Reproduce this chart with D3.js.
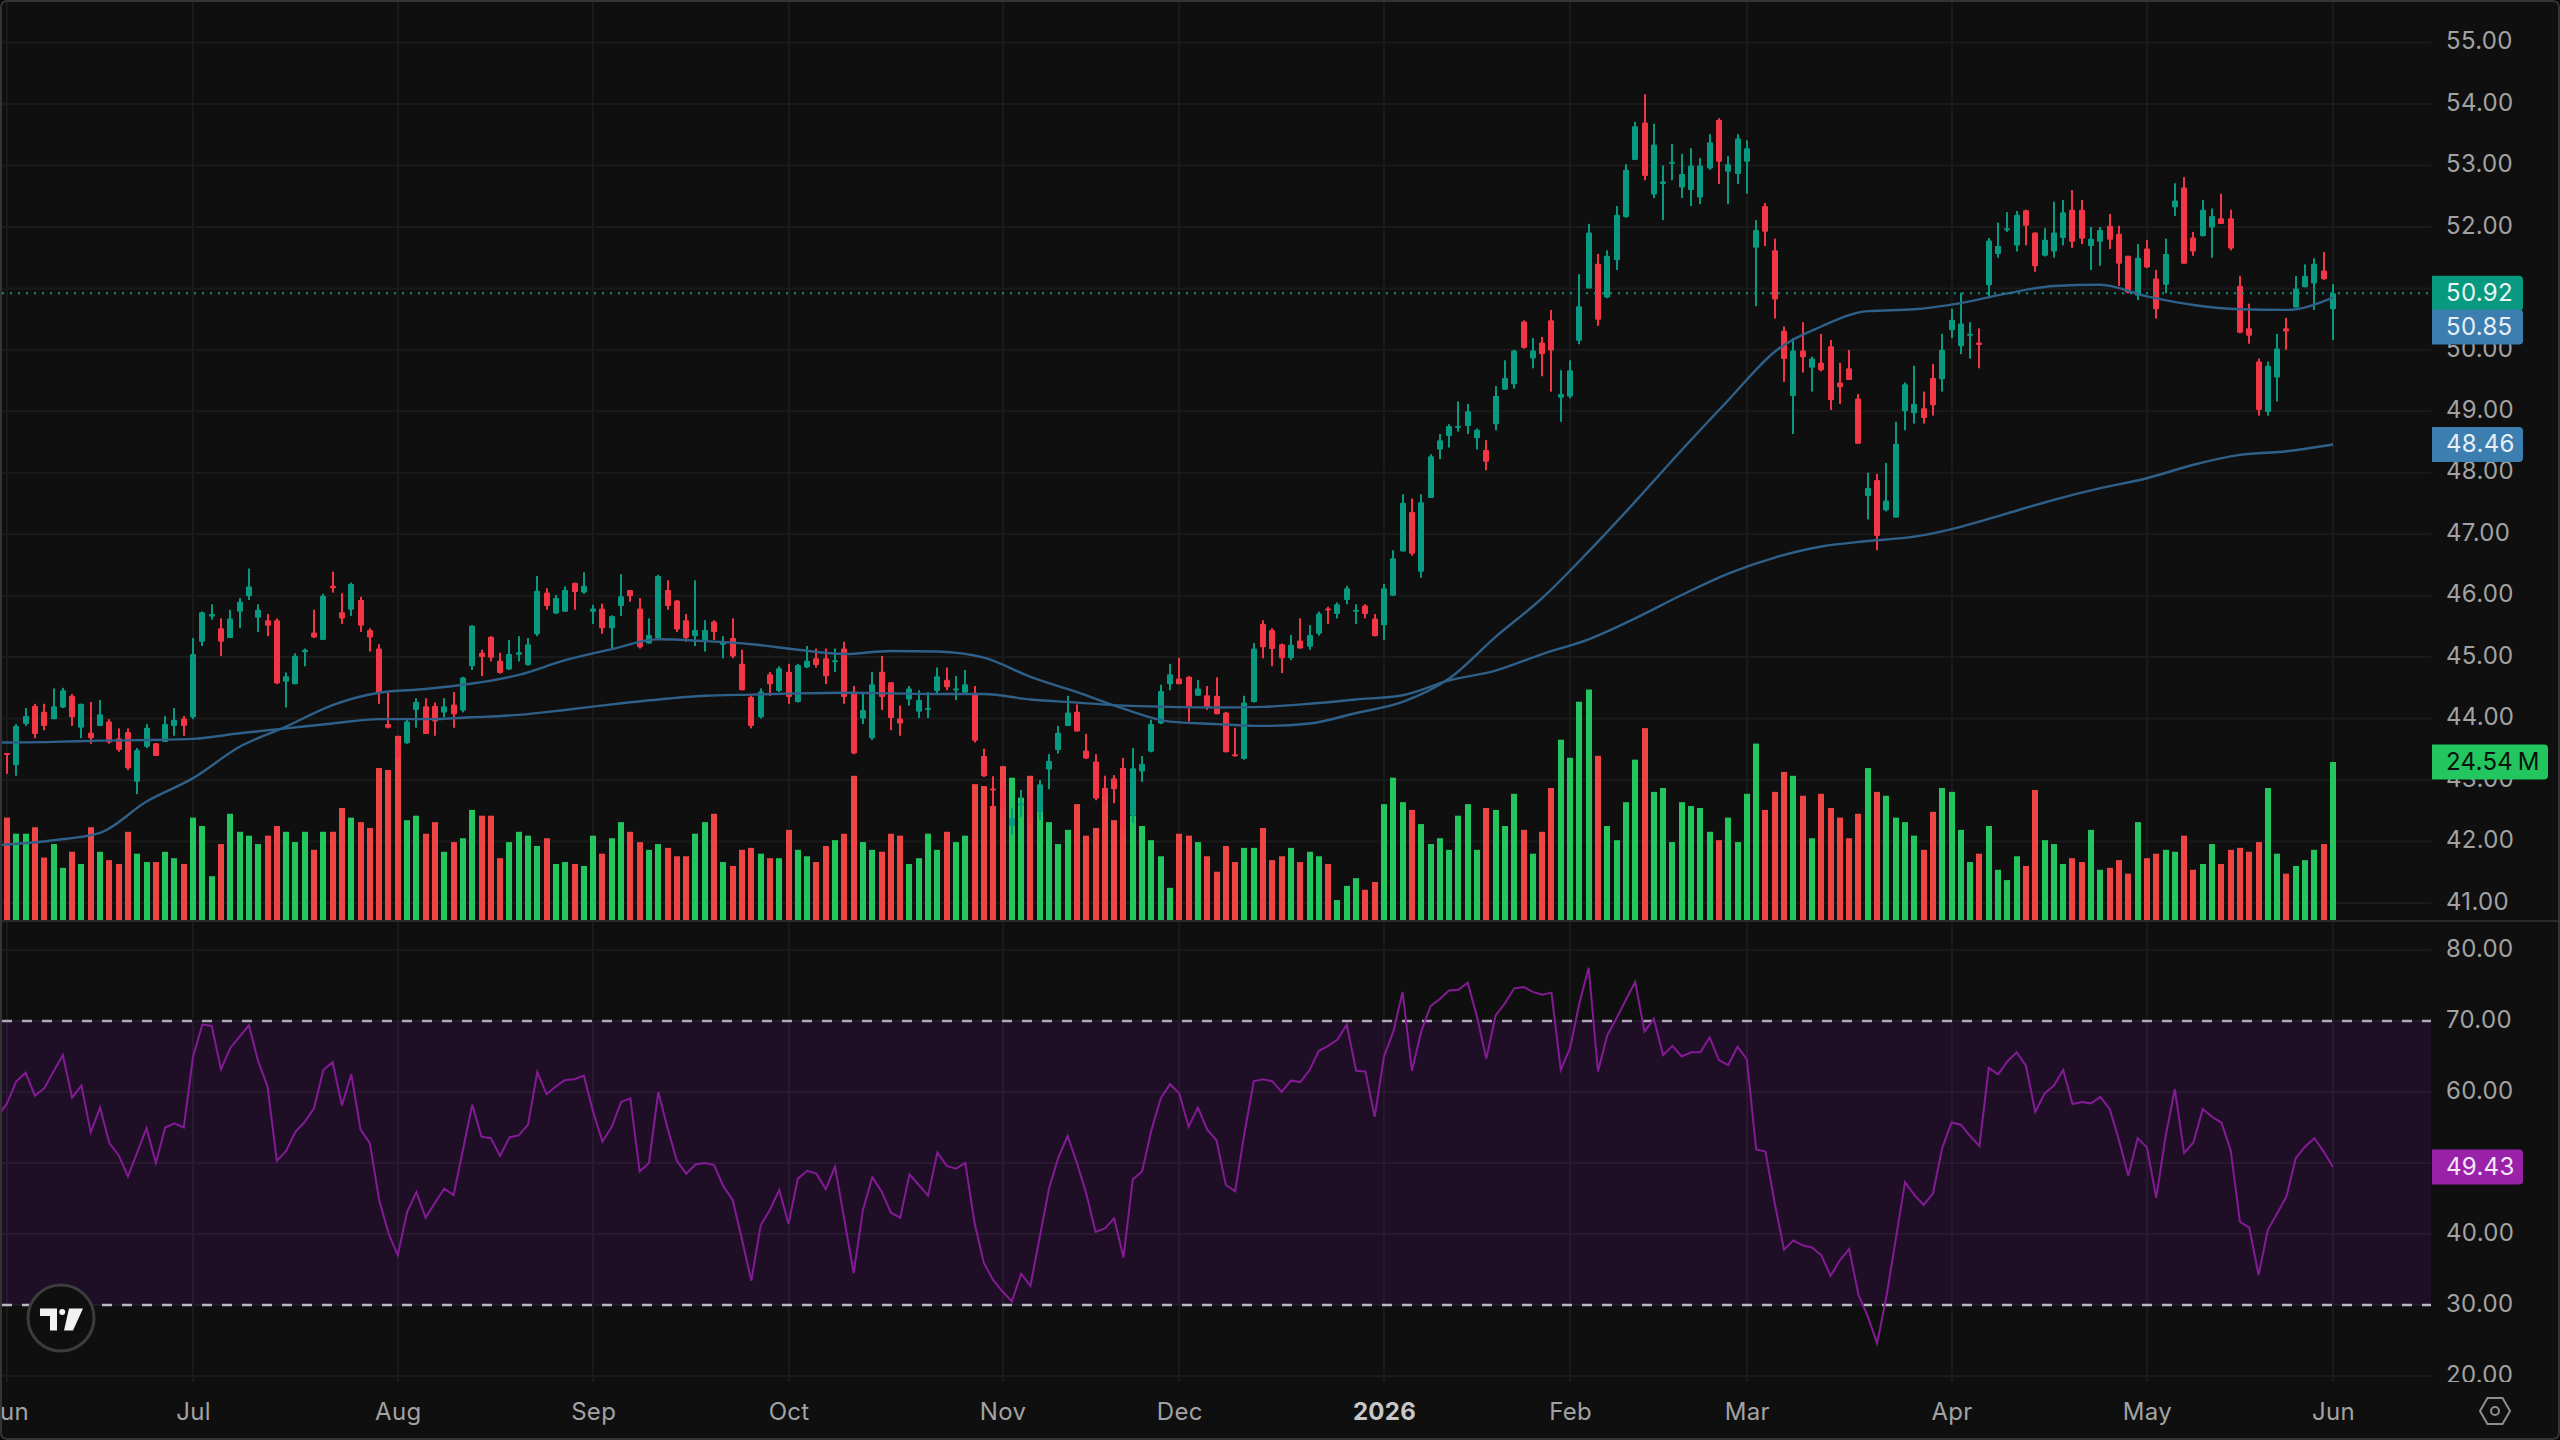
<!DOCTYPE html>
<html>
<head>
<meta charset="utf-8">
<title>Price, volume and RSI</title>
<script src="https://cdn.jsdelivr.net/npm/d3@7/dist/d3.min.js"></script>
<style>
  html, body { margin: 0; padding: 0; background: #0b0b0b; }
  svg { display: block; font-family: Inter, "Noto Sans", sans-serif; }
</style>
</head>
<body>
<div id="chart"></div>
<script>
// Daily sessions, June 2025 to June 2026
const open = [
  43.44,43.24,43.91,44.21,44.11,43.99,44.18,44.37,43.85,43.77,
  43.88,43.95,43.68,43.78,42.97,43.54,43.60,43.62,43.88,44.00,
  44.02,45.25,45.66,45.47,45.31,45.74,45.99,45.64,45.60,45.60,
  44.60,44.56,45.08,45.40,45.28,46.16,45.73,45.77,45.93,45.44,
  45.14,43.91,43.59,43.60,44.14,44.20,44.21,44.10,44.23,44.13,
  44.85,45.07,45.33,44.94,44.80,45.04,44.87,45.37,46.05,45.71,
  45.74,46.21,46.05,45.74,45.79,45.47,45.83,46.09,45.79,45.22,
  45.31,46.09,45.92,45.60,45.34,45.28,45.58,45.20,45.31,44.89,
  44.35,44.02,44.72,44.45,44.76,44.27,44.83,44.98,44.98,44.93,
  45.14,44.44,44.00,43.68,44.76,44.59,44.00,44.31,44.11,44.14,
  44.45,44.63,44.47,44.42,44.42,43.39,42.86,42.85,42.25,42.58,
  42.74,42.48,43.17,43.49,43.88,44.11,43.48,43.30,42.86,43.03,
  43.19,42.42,43.14,43.46,43.92,44.56,44.65,44.68,44.37,44.38,
  44.37,44.10,43.42,43.34,44.27,45.54,45.44,45.21,44.98,45.27,
  45.17,45.38,45.79,45.70,45.93,45.74,45.84,45.63,45.52,46.00,
  46.72,47.36,46.39,47.59,48.38,48.60,48.73,48.76,48.56,48.37,
  48.79,49.35,49.44,50.46,49.86,50.12,50.48,49.22,49.24,50.15,
  51.00,51.40,50.85,51.46,52.16,53.09,53.70,52.53,52.70,53.03,
  52.64,52.60,52.48,52.95,53.74,52.90,52.86,53.06,51.66,52.34,
  51.62,50.31,49.25,49.99,49.71,49.79,50.06,49.47,49.70,49.21,
  47.62,47.88,47.39,47.27,49.00,48.97,49.05,49.54,49.52,50.32,
  50.06,50.23,50.12,51.05,51.56,51.95,51.70,52.27,51.91,51.53,
  51.60,51.82,52.28,52.28,51.69,51.76,52.02,51.89,51.53,50.88,
  51.65,51.16,51.06,52.32,52.64,51.83,51.85,51.99,52.14,52.14,
  51.04,50.35,49.81,48.99,49.55,50.35,50.69,51.02,51.08,51.29,50.66
];
const high = [
  43.44,43.91,44.17,44.24,44.24,44.49,44.50,44.40,44.24,44.27,
  44.30,43.99,43.84,43.84,43.52,43.91,43.60,44.04,44.17,44.04,
  45.31,45.74,45.86,45.63,45.77,45.96,46.44,45.86,45.70,45.63,
  44.75,45.06,45.14,45.77,46.03,46.39,46.04,46.21,45.98,45.47,
  45.21,44.42,43.72,43.99,44.33,44.33,44.26,44.33,44.43,44.68,
  45.52,45.12,45.34,45.07,45.28,45.34,45.31,46.32,46.12,46.01,
  46.15,46.21,46.38,45.85,45.87,45.68,46.35,46.09,45.96,45.63,
  46.34,46.25,45.93,45.70,46.25,45.60,45.60,45.34,45.63,45.12,
  44.38,44.49,44.76,44.85,44.89,44.89,45.18,45.14,45.14,45.14,
  45.25,44.53,44.41,44.76,45.02,44.59,44.21,44.53,44.46,44.43,
  44.83,44.83,44.69,44.79,44.53,43.51,43.06,42.95,42.55,42.84,
  42.95,43.00,43.42,43.88,44.37,44.23,43.75,43.42,43.07,43.08,
  43.36,43.52,43.39,43.98,44.55,44.89,44.99,44.69,44.63,44.53,
  44.67,44.11,43.85,44.37,45.23,45.60,45.47,45.22,45.36,45.63,
  45.52,45.74,45.82,45.89,46.16,45.86,45.86,45.70,46.19,46.74,
  47.65,47.58,47.65,48.30,48.63,48.79,49.16,49.12,48.72,48.53,
  49.41,49.83,50.00,50.48,50.19,50.21,50.65,49.67,49.83,51.23,
  52.05,51.56,51.62,52.34,53.02,53.71,54.16,53.68,53.00,53.35,
  53.19,53.28,53.12,53.51,53.77,53.15,53.51,53.41,52.11,52.39,
  51.81,50.38,50.19,50.45,49.89,50.26,50.16,49.79,50.00,49.28,
  48.00,47.98,48.16,48.83,49.47,49.74,49.32,49.77,50.26,50.67,
  50.93,50.45,50.35,51.82,52.07,52.24,52.26,52.28,51.91,51.98,
  52.41,52.44,52.60,52.44,52.00,52.00,52.21,52.02,51.53,51.72,
  51.79,51.30,51.81,52.71,52.81,51.92,52.44,52.30,52.54,52.28,
  51.20,50.75,49.86,49.81,50.26,50.52,51.20,51.39,51.49,51.59,51.07
];
const low = [
  43.10,43.07,43.88,43.68,43.81,43.99,44.17,43.88,43.68,43.59,
  43.88,43.59,43.46,43.16,42.77,43.52,43.39,43.62,43.72,43.72,
  43.99,45.18,45.61,45.02,45.31,45.47,45.93,45.41,45.34,44.56,
  44.18,44.56,44.85,45.31,45.28,46.05,45.54,45.67,45.41,45.09,
  44.24,43.84,43.35,43.59,43.85,43.75,43.72,44.02,43.85,44.10,
  44.79,44.69,44.93,44.73,44.79,44.93,44.86,45.34,45.77,45.70,
  45.74,45.77,46.03,45.54,45.38,45.13,45.67,45.90,45.14,45.22,
  45.31,45.77,45.41,45.25,45.18,45.09,45.28,44.98,44.98,44.46,
  43.84,44.00,44.37,44.43,44.24,44.26,44.82,44.83,44.56,44.76,
  44.24,43.42,43.91,43.65,44.14,43.81,43.72,44.21,44.01,44.01,
  44.40,44.46,44.30,44.40,43.61,43.05,42.54,42.45,42.11,42.40,
  42.30,42.35,42.85,43.43,43.88,43.79,43.34,42.67,42.60,42.62,
  42.10,42.30,42.97,43.45,43.91,44.46,44.56,43.95,44.37,44.14,
  44.07,43.45,43.38,43.33,44.26,44.98,44.85,44.74,44.95,45.14,
  45.12,45.35,45.54,45.63,45.86,45.54,45.63,45.34,45.28,46.00,
  46.72,46.65,46.29,47.59,48.22,48.41,48.67,48.63,48.38,48.04,
  48.69,49.35,49.37,50.02,49.70,49.57,49.32,48.83,49.21,50.09,
  51.00,50.39,50.84,51.30,52.15,53.09,52.76,52.47,52.11,52.76,
  52.47,52.34,52.37,52.93,52.70,52.37,52.70,52.54,50.71,51.69,
  50.51,49.48,48.63,49.63,49.32,49.65,49.02,49.12,49.51,48.47,
  47.24,46.74,47.37,47.27,48.69,48.80,48.80,48.93,49.32,50.19,
  49.93,49.86,49.70,50.84,51.50,51.92,51.60,51.70,51.27,51.52,
  51.50,51.70,51.66,51.72,51.30,51.37,51.64,51.04,50.92,50.81,
  51.33,50.51,50.92,52.18,51.40,51.53,51.85,51.50,52.05,51.62,
  50.27,50.10,48.93,48.93,49.16,50.00,50.69,51.02,50.65,51.14,50.16
];
const close = [
  43.42,43.88,44.04,43.75,43.88,44.20,44.46,44.02,44.24,43.68,
  44.07,43.61,43.49,43.19,43.49,43.85,43.39,43.91,43.98,43.88,
  45.05,45.73,45.70,45.25,45.63,45.90,46.15,45.77,45.51,44.57,
  44.69,45.02,45.12,45.32,46.00,46.12,45.63,46.19,45.51,45.32,
  44.41,43.85,43.37,43.95,44.27,43.75,43.95,44.20,44.07,44.67,
  45.51,45.00,44.99,44.74,45.05,45.08,45.21,46.08,45.83,45.96,
  46.09,46.06,46.16,45.79,45.47,45.67,45.99,45.99,45.16,45.36,
  46.32,45.83,45.45,45.31,45.44,45.44,45.41,45.25,45.01,44.46,
  43.88,44.44,44.56,44.82,44.35,44.87,44.94,44.87,44.69,44.95,
  44.35,43.43,44.14,44.56,44.35,44.01,43.92,44.49,44.30,44.17,
  44.69,44.51,44.49,44.56,43.64,43.06,42.83,42.55,42.38,42.62,
  42.40,42.93,43.31,43.77,44.10,43.79,43.35,42.70,42.74,42.85,
  42.25,43.19,43.26,43.91,44.45,44.72,44.56,44.18,44.49,44.18,
  44.07,43.45,43.39,44.26,45.14,45.16,45.13,44.98,45.20,45.14,
  45.36,45.71,45.77,45.86,46.12,45.77,45.70,45.34,46.12,46.61,
  47.51,46.68,47.52,48.27,48.53,48.76,48.76,49.00,48.70,48.18,
  49.25,49.54,49.99,50.03,49.99,49.93,49.99,49.28,49.67,50.71,
  51.91,50.49,51.53,52.20,52.93,53.64,52.83,53.34,52.74,53.06,
  52.86,53.00,53.00,53.38,53.06,53.02,53.44,53.28,51.95,51.92,
  50.82,49.85,49.99,49.88,49.86,49.67,49.18,49.39,49.51,48.47,
  47.75,46.97,47.55,48.47,49.44,49.12,48.89,49.10,50.00,50.49,
  50.43,50.26,50.08,51.78,51.69,51.98,52.20,52.02,51.36,51.79,
  51.91,52.24,51.76,51.81,51.81,51.95,51.79,51.40,50.93,51.50,
  51.34,50.66,51.56,52.43,51.40,51.60,52.28,52.18,52.05,51.65,
  50.28,50.23,49.02,49.74,50.02,50.30,51.00,51.20,51.40,51.15,50.92
];
// Session volume in millions of shares
const volume = [
  15.9,13.4,13.4,14.4,9.7,11.8,8.1,10.6,8.7,14.4,
  10.6,9.3,8.7,13.7,10.3,9.0,9.0,10.6,9.6,8.7,
  15.9,14.6,6.8,11.8,16.5,13.7,13.1,11.8,13.1,14.6,
  13.7,12.1,13.7,10.9,13.7,13.7,17.4,15.9,15.2,14.3,
  23.6,23.3,28.6,15.5,16.2,13.4,15.2,10.6,12.1,12.7,
  17.1,16.2,16.2,9.6,12.1,13.7,13.1,11.5,12.7,8.7,
  9.0,8.7,8.4,13.1,10.3,12.7,15.2,13.7,12.1,10.9,
  11.8,11.2,9.9,9.9,13.4,15.2,16.5,9.0,8.4,10.9,
  11.2,10.3,9.6,9.6,14.0,10.9,9.9,9.0,11.5,12.4,
  13.4,22.4,12.1,10.9,10.6,13.4,13.1,8.7,9.6,13.4,
  10.9,13.7,12.1,13.1,21.1,20.8,17.7,23.9,22.1,19.0,
  22.4,18.0,15.2,11.8,14.0,18.0,13.1,14.3,20.5,15.5,
  23.6,16.2,14.6,12.4,9.9,5.0,13.4,13.1,12.1,9.9,
  7.5,11.5,9.0,11.2,11.2,14.3,9.3,9.9,11.2,9.0,
  10.6,9.9,8.7,3.1,5.3,6.5,4.7,5.9,18.0,22.1,
  18.3,17.1,14.9,11.8,12.7,10.9,16.2,18.0,10.9,17.4,
  17.1,14.6,19.6,14.0,10.3,13.7,20.5,28.0,25.2,33.9,
  35.8,25.5,14.6,12.4,18.3,24.9,29.8,19.9,20.5,12.1,
  18.3,17.7,17.4,13.7,12.4,15.9,12.1,19.6,27.4,17.1,
  19.9,23.0,22.4,19.3,12.7,19.6,17.4,15.9,12.7,16.5,
  23.6,19.9,19.3,15.9,15.2,13.1,10.9,16.8,20.5,19.9,
  14.0,9.0,10.3,14.6,7.8,6.2,9.9,8.4,20.2,12.4,
  11.8,8.7,9.6,9.0,14.0,7.8,8.1,9.3,7.2,15.2,
  9.6,10.3,10.9,10.6,13.1,7.8,8.7,11.8,8.7,10.9,
  11.2,10.6,12.1,20.5,10.3,7.2,8.4,9.3,10.9,11.8,24.54
];
// Relative strength index per session
const rsi = [
  58.4,61.5,62.7,59.5,60.5,62.9,65.2,59.2,60.9,54.3,
  57.8,52.8,51.1,48.1,51.5,54.9,50.0,55.0,55.6,55.0,
  65.0,69.5,69.3,63.2,66.2,67.8,69.4,64.3,60.8,50.3,
  51.7,54.4,55.8,57.7,63.1,64.2,58.1,62.5,54.7,52.8,
  44.8,40.1,37.0,43.1,45.9,42.3,44.4,46.4,45.5,51.8,
  58.2,53.7,53.5,51.0,53.6,53.9,55.4,62.8,59.7,60.8,
  61.7,61.8,62.3,57.2,53.0,55.1,58.6,59.1,48.8,50.0,
  60.0,54.9,50.3,48.5,49.8,50.0,49.7,46.7,44.8,39.2,
  33.4,41.2,43.4,46.2,41.4,47.8,48.9,48.5,46.3,49.5,
  42.0,34.5,43.4,48.0,46.0,43.0,42.3,48.4,46.9,45.4,
  51.5,49.6,49.2,50.0,41.5,35.9,33.5,31.9,30.5,34.4,
  32.7,39.6,46.4,50.8,53.8,50.0,45.7,40.3,40.8,42.2,
  36.7,47.7,48.8,54.6,59.1,61.1,59.8,55.1,57.8,54.7,
  53.2,46.9,46.0,54.2,61.5,61.8,61.5,60.0,61.6,61.4,
  63.1,65.8,66.5,67.4,69.5,63.0,62.9,56.5,65.0,68.5,
  74.1,63.0,68.5,72.1,73.1,74.3,74.4,75.4,70.6,64.7,
  70.8,72.5,74.6,74.8,74.1,73.7,74.0,63.1,66.2,72.5,
  77.5,62.9,68.0,70.4,73.0,75.5,68.5,70.3,65.2,66.5,
  65.0,65.6,65.6,67.7,64.5,63.8,66.4,64.6,51.9,51.6,
  44.3,37.8,39.1,38.4,38.1,37.0,34.1,36.3,37.9,31.4,
  28.4,24.6,31.2,39.2,47.3,45.5,44.1,45.7,52.1,55.7,
  55.4,53.8,52.4,63.4,62.5,64.3,65.6,63.7,57.2,59.8,
  60.9,63.1,58.3,58.6,58.4,59.3,57.6,53.2,48.2,53.5,
  52.2,45.1,53.7,60.4,51.4,52.9,57.6,56.5,55.7,51.8,
  41.7,40.9,34.2,40.6,42.9,45.3,50.7,52.3,53.5,51.6,49.43
];
const rsiBeforeWindow = 56.5;

// Moving averages, read every fifth session
const maIndex = [
  -1,0,5,10,15,20,25,30,35,40,45,50,55,60,65,70,75,80,85,90,95,100,105,110,115,120,
  125,130,135,140,145,150,155,160,165,170,175,180,185,190,195,200,205,210,215,220,225,230,235,240,245,250
];
const fastMa = [
  41.94,41.95,42.02,42.14,42.65,43.03,43.54,43.87,44.22,44.42,44.48,44.57,44.71,44.95,45.13,45.29,45.26,45.21,45.12,45.05,45.10,45.09,44.99,44.68,44.43,44.16,
  43.95,43.91,43.88,43.92,44.09,44.27,44.65,45.33,45.96,46.72,47.53,48.37,49.18,49.97,50.38,50.63,50.66,50.76,50.92,51.04,51.06,50.87,50.73,50.66,50.65,50.85
];
const slowMa = [
  43.61,43.61,43.62,43.64,43.65,43.67,43.76,43.84,43.92,43.99,43.99,44.02,44.06,44.14,44.23,44.31,44.37,44.39,44.41,44.42,44.41,44.40,44.40,44.31,44.26,44.21,
  44.19,44.18,44.19,44.24,44.31,44.38,44.62,44.78,45.05,45.29,45.63,46.01,46.36,46.62,46.80,46.89,46.96,47.12,47.34,47.56,47.75,47.91,48.13,48.29,48.35,48.46
];

// Time axis: session index of each month start and its label
const monthIndex = [0,20,42,63,84,107,126,148,168,187,209,230,250];
const monthLabels = ["Jun","Jul","Aug","Sep","Oct","Nov","Dec","2026","Feb","Mar","Apr","May","Jun"];
const priceTicks = [41,42,43,44,45,46,47,48,49,50,51,52,53,54,55];
const rsiTicks = [20,30,40,50,60,70,80];

const W = 2560, H = 1440;
const plotRight = 2431, paneSplit = 921, rsiBottom = 1382;

const x = d3.scaleLinear().domain([0, 250]).range([7, 2333]);
const yPrice = d3.scaleLinear().domain([41, 55]).range([902.9, 42.6]);
const yVol = d3.scaleLinear().domain([0, 24.54]).range([920, 762]);
const yRsi = d3.scaleLinear().domain([20, 80]).range([1376, 950]);

const colors = {
  bg: "#0f0f0f", grid: "#1a1a1a", frame: "#343434",
  up: "#089981", down: "#f23645",
  volUp: "#22c55e", volDown: "#ef4444",
  ma: "#2f6089", tag: "#3d7eb0", rsi: "#861a96", rsiTag: "#9a22a9",
  text: "#a2a2a2"
};

const svg = d3.select("#chart").append("svg").attr("width", W).attr("height", H);
svg.append("rect").attr("x", 0).attr("y", 0).attr("width", W).attr("height", H)
  .attr("rx", 6).attr("fill", colors.bg);

const defs = svg.append("defs");
defs.append("clipPath").attr("id", "plot-clip").append("rect")
  .attr("x", 2).attr("y", 0).attr("width", plotRight - 2).attr("height", paneSplit);
defs.append("clipPath").attr("id", "rsi-clip").append("rect")
  .attr("x", 2).attr("y", paneSplit).attr("width", plotRight - 2).attr("height", rsiBottom - paneSplit);
defs.append("clipPath").attr("id", "rsi-axis-clip").append("rect")
  .attr("x", plotRight).attr("y", paneSplit).attr("width", W - plotRight).attr("height", rsiBottom - paneSplit);
defs.append("clipPath").attr("id", "time-clip").append("rect")
  .attr("x", 2).attr("y", rsiBottom).attr("width", plotRight).attr("height", H - rsiBottom);

// Grid
const grid = svg.append("g").attr("stroke", colors.grid).attr("stroke-width", 2).attr("fill", "none");
grid.selectAll(".vp").data(monthIndex).join("line")
  .attr("x1", d => Math.round(x(d))).attr("x2", d => Math.round(x(d)))
  .attr("y1", 0).attr("y2", rsiBottom);
grid.selectAll(".hp").data(priceTicks).join("line")
  .attr("x1", 0).attr("x2", plotRight)
  .attr("y1", d => yPrice(d)).attr("y2", d => yPrice(d));
grid.selectAll(".hr").data(rsiTicks).join("line")
  .attr("x1", 0).attr("x2", plotRight)
  .attr("y1", d => yRsi(d)).attr("y2", d => yRsi(d));

// Volume sits behind the candles
const sessions = d3.range(close.length);
const isUp = i => close[i] >= open[i];
const plot = svg.append("g").attr("clip-path", "url(#plot-clip)");
plot.append("g").selectAll("rect").data(sessions).join("rect")
  .attr("x", i => Math.round(x(i)) - 3)
  .attr("width", 6)
  .attr("y", i => yVol(volume[i]))
  .attr("height", i => yVol(0) - yVol(volume[i]))
  .attr("fill", i => isUp(i) ? colors.volUp : colors.volDown);

// Last price guide
svg.append("line")
  .attr("x1", 2).attr("x2", plotRight)
  .attr("y1", yPrice(close[250])).attr("y2", yPrice(close[250]))
  .attr("stroke", colors.up).attr("stroke-width", 2).attr("stroke-dasharray", "2 6");

// Candles
const candles = plot.append("g");
candles.selectAll(".wick").data(sessions).join("rect")
  .attr("x", i => Math.round(x(i)) - 1)
  .attr("width", 2)
  .attr("y", i => yPrice(high[i]))
  .attr("height", i => yPrice(low[i]) - yPrice(high[i]))
  .attr("fill", i => isUp(i) ? colors.up : colors.down);
candles.selectAll(".body").data(sessions).join("rect")
  .attr("x", i => Math.round(x(i)) - 3)
  .attr("width", 6)
  .attr("rx", 1)
  .attr("y", i => yPrice(Math.max(open[i], close[i])))
  .attr("height", i => Math.max(2, Math.abs(yPrice(open[i]) - yPrice(close[i]))))
  .attr("fill", i => isUp(i) ? colors.up : colors.down);

// Moving averages
const maLine = d3.line().x(d => x(d[0])).y(d => yPrice(d[1])).curve(d3.curveMonotoneX);
[fastMa, slowMa].forEach(series => {
  plot.append("path")
    .attr("d", maLine(maIndex.map((k, n) => [k, series[n]])))
    .attr("fill", "none").attr("stroke", colors.ma).attr("stroke-width", 2.4);
});

// Pane divider
svg.append("line").attr("x1", 0).attr("x2", W).attr("y1", paneSplit).attr("y2", paneSplit)
  .attr("stroke", "#2a2a2a").attr("stroke-width", 2);

// RSI pane
svg.append("rect")
  .attr("x", 2).attr("width", plotRight - 2)
  .attr("y", yRsi(70)).attr("height", yRsi(30) - yRsi(70))
  .attr("fill", "rgb(120,20,180)").attr("fill-opacity", 0.15);
[70, 30].forEach(level => {
  svg.append("line")
    .attr("x1", 2).attr("x2", plotRight)
    .attr("y1", yRsi(level)).attr("y2", yRsi(level))
    .attr("stroke", level === 70 ? "#b4a6bc" : "#bcb8c0").attr("stroke-width", 2.5)
    .attr("stroke-dasharray", "10 10");
});
const rsiLine = d3.line().x(d => x(d[0])).y(d => yRsi(d[1]));
svg.append("g").attr("clip-path", "url(#rsi-clip)").append("path")
  .attr("d", rsiLine([[-1, rsiBeforeWindow], ...rsi.map((v, i) => [i, v])]))
  .attr("fill", "none").attr("stroke", colors.rsi).attr("stroke-width", 2);

// Axes
function styleAxis(g) {
  g.call(a => a.select(".domain").remove());
  g.selectAll("text").attr("fill", colors.text).attr("font-size", 24)
    .attr("font-family", 'Inter, "Noto Sans", sans-serif')
    .attr("letter-spacing", 0.3);
  g.selectAll("line").remove();
}
const labelFormat = d3.format(".2f");
// Right-hand labels sit a little above their gridlines
svg.append("g").attr("transform", `translate(${plotRight},-1.5)`)
  .call(d3.axisRight(yPrice).tickValues(priceTicks).tickFormat(labelFormat).tickSize(0).tickPadding(15))
  .call(styleAxis);
svg.append("g").attr("clip-path", "url(#rsi-axis-clip)")
  .append("g").attr("transform", `translate(${plotRight},-1.5)`)
  .call(d3.axisRight(yRsi).tickValues(rsiTicks).tickFormat(labelFormat).tickSize(0).tickPadding(15))
  .call(styleAxis);
const timeAxis = svg.append("g").attr("clip-path", "url(#time-clip)")
  .append("g").attr("transform", `translate(0,1403)`)
  .call(d3.axisBottom(x).tickValues(monthIndex)
    .tickFormat(d => monthLabels[monthIndex.indexOf(d)]).tickSize(0).tickPadding(0))
  .call(styleAxis);
timeAxis.selectAll("text").filter(d => d === 148)
  .attr("font-weight", 700).attr("fill", "#c8c8c8");

// Value tags on the right scale
function tag(centerY, width, fill, label, textFill) {
  const g = svg.append("g");
  const top = centerY - 17.5, r = 4;
  g.append("path")
    .attr("d", `M${plotRight + 1},${top}H${plotRight + 1 + width - r}q${r},0 ${r},${r}V${top + 35 - r}q0,${r} ${-r},${r}H${plotRight + 1}Z`)
    .attr("fill", fill);
  g.append("text")
    .attr("x", 2446).attr("y", centerY - 1).attr("dy", "0.36em")
    .attr("font-size", 24).attr("letter-spacing", 0.3).attr("fill", textFill).text(label);
}
tag(yPrice(close[250]), 91, colors.up, labelFormat(close[250]), "#e8f5f1");
tag(327, 91, colors.tag, labelFormat(fastMa[fastMa.length - 1]), "#e6eff6");
tag(yPrice(slowMa[slowMa.length - 1]), 91, colors.tag, labelFormat(slowMa[slowMa.length - 1]), "#e6eff6");
tag(yVol(volume[250]), 116, colors.volUp, `${labelFormat(volume[250])}\u2009M`, "#07120b");
tag(yRsi(rsi[250]), 91, colors.rsiTag, labelFormat(rsi[250]), "#f3e6f6");

// Corner badge
const badge = svg.append("g").attr("transform", "translate(61,1318)");
badge.append("circle").attr("r", 33).attr("fill", colors.bg).attr("stroke", "#3c3c3c").attr("stroke-width", 3);
badge.append("path").attr("fill", "#f2f2f2")
  .attr("d", "M-21,-9.5H-4V12.5H-11V-2H-21Z M8,-9.5H22L12,12.5H3Z");
badge.append("circle").attr("cx", 1.2).attr("cy", -6).attr("r", 3).attr("fill", "#f2f2f2");

// Settings glyph
const gear = svg.append("g").attr("transform", "translate(2495,1411)")
  .attr("fill", "none").attr("stroke", "#8e8e8e").attr("stroke-width", 2);
gear.append("path").attr("d", "M-15,0L-7.5,-13H7.5L15,0L7.5,13H-7.5Z");
gear.append("circle").attr("r", 4);

// Window frame
svg.append("rect").attr("x", 1).attr("y", 1).attr("width", W - 2).attr("height", H - 2)
  .attr("rx", 6).attr("fill", "none").attr("stroke", colors.frame).attr("stroke-width", 2);
</script>
</body>
</html>
